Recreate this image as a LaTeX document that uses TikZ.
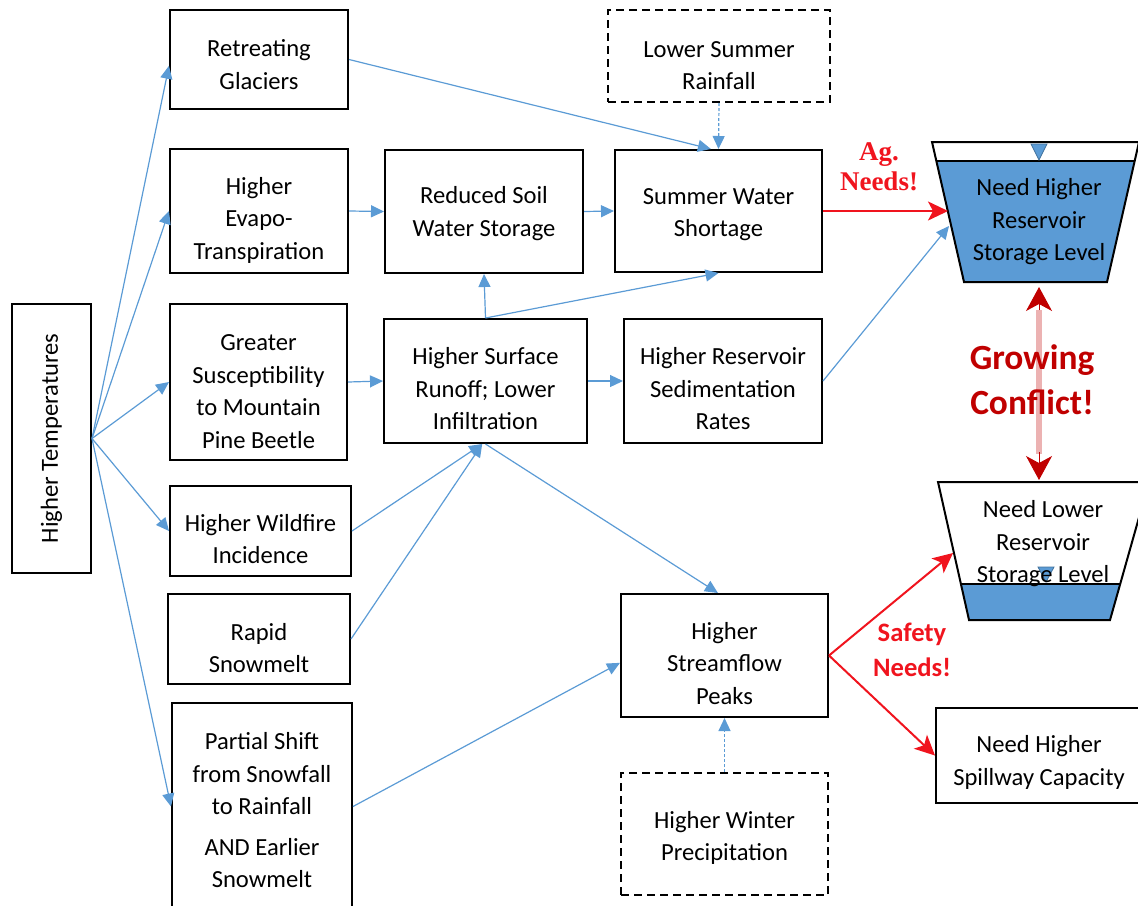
\documentclass[tikz,border=0pt]{standalone}
\usepackage{fontspec}
\setmainfont{Carlito}
\newfontfamily\agfont{Liberation Serif}
\usepackage{xcolor}
\usetikzlibrary{calc,arrows.meta}
\definecolor{flow}{HTML}{5B9BD5}
\definecolor{water}{HTML}{5B9BD5}
\definecolor{marker}{HTML}{41719C}
\definecolor{need}{HTML}{F0141E}
\definecolor{conflict}{HTML}{C00000}
% taller first line pushes the text down inside its box
\newcommand\lift[1]{\rule{0pt}{\dimexpr 8.5pt+#1\relax}}
\tikzset{
  box/.style={draw=black, line width=1pt, align=center, inner sep=0pt, font=\fontsize{12.3}{16.25}\selectfont},
  dbox/.style={box, dash pattern=on 4pt off 2.5pt},
  wh/.style 2 args={minimum width=#1*0.5pt, minimum height=#2*0.5pt},
  link/.style={draw=flow, line width=0.6pt, -{Triangle[length=6.5pt,width=6pt]}},
  weak/.style={link, dash pattern=on 1.5pt off 1pt},
  push/.style={draw=need, line width=1pt, -{Stealth[length=10pt,width=9.5pt,inset=2.5pt]}},
  res/.style={draw=black, line width=1pt, line join=miter},
  level/.style={fill=water, draw=marker, line width=0.4pt},
  restext/.style={align=center, inner sep=0pt, font=\fontsize{12.3}{16.25}\selectfont},
  gap/.style={draw=conflict, draw opacity=0.3, line width=3pt},
  gaptip/.style={draw=conflict, line width=0.5pt, -{Stealth[length=12pt,width=13pt,inset=3.5pt]}},
  shout/.style={align=center, inner sep=0pt, font=\bfseries\fontsize{13.3}{17.5}\selectfont, text=need},
}

\begin{document}
\begin{tikzpicture}[x=0.5pt,y=-0.5pt]
  \useasboundingbox (0,0) rectangle (1138,905);

  % drivers
  \node[box, rotate=90, wh={269}{79}] (temp) at (51.5,438.5) {Higher Temperatures};
  \node[box, wh={178}{99}] (glac) at (259,59.5) {\lift{5pt}Retreating\\Glaciers};
  \node[box, wh={178}{124}] (evap) at (259,211) {\lift{9pt}Higher\\Evapo-\\Transpiration};
  \node[box, wh={177}{156}] (beetle) at (258.5,382) {\lift{9pt}Greater\\Susceptibility\\to Mountain\\Pine Beetle};
  \node[box, wh={181}{90}] (fire) at (260.5,531) {\lift{8pt}Higher Wildfire\\Incidence};
  \node[box, wh={182}{90}] (melt) at (259,639) {\lift{9pt}Rapid\\Snowmelt};
  \node[box, wh={180}{207}] (shift) at (262,806.5) {\lift{4pt}Partial Shift\\from Snowfall\\to Rainfall\\[4pt]AND Earlier\\Snowmelt};

  % effects
  \node[box, wh={198}{123}] (soil) at (484,211.5) {\lift{2pt}Reduced Soil\\Water Storage};
  \node[box, wh={203}{124}] (runoff) at (485.5,381) {\lift{8pt}Higher Surface\\Runoff; Lower\\Infiltration};
  \node[box, wh={207}{122}] (short) at (718.5,211) {\lift{3pt}Summer Water\\Shortage};
  \node[dbox, wh={222}{92}] (rain) at (719,56) {\lift{9pt}Lower Summer\\Rainfall};
  \node[box, wh={198}{124}] (sed) at (723,381) {\lift{8pt}Higher Reservoir\\Sedimentation\\Rates};
  \node[box, wh={207}{123}] (peaks) at (724.5,655.5) {\lift{8pt}Higher\\Streamflow\\Peaks};
  \node[dbox, wh={207}{122}] (winter) at (724.5,834) {\lift{4pt}Higher Winter\\Precipitation};
  \node[box, wh={206}{95}] (spill) at (1039,755.5) {\lift{7pt}Need Higher\\Spillway Capacity};

  % reservoirs
  \fill[water] (936.3,161) -- (1134.7,161) -- (1107,282) -- (964,282) -- cycle;
  \draw[res] (932,142) -- (1139,142) -- (1107,282) -- (964,282) -- cycle;
  \draw[res] (936.3,161) -- (1134.7,161);
  \draw[level] (1031,144) -- (1047,144) -- (1039,160) -- cycle;
  \node[restext] (hitxt) at (1039,222) {Need Higher\\Reservoir\\Storage Level};

  \fill[water] (960.9,584) -- (1120,584) -- (1110,620) -- (969,620) -- cycle;
  \draw[res] (938,482) -- (1149,482) -- (1110,620) -- (969,620) -- cycle;
  \draw[res] (960.9,584) -- (1120,584);
  \draw[level] (1038,567) -- (1054,567) -- (1046,582) -- cycle;
  \node[restext] (lotxt) at (1043,544) {Need Lower\\Reservoir\\Storage Level};

  \coordinate (hiag) at (948,211);
  \coordinate (hised) at (949,226);
  \coordinate (hibot) at (1039,282);
  \coordinate (lotop) at (1039,482);
  \coordinate (losafe) at (953,553);

  % blue links
  \draw[link] (temp.south) -- (glac.184);
  \draw[link] (temp.south) -- (evap.west);
  \draw[link] (temp.south) -- (beetle.west);
  \draw[link] (temp.south) -- (fire.west);
  \draw[link] (temp.south) -- (shift.west);
  \draw[link] (evap.east) -- (soil.west);
  \draw[link] (beetle.east) -- (runoff.west);
  \draw[link] (soil.east) -- (short.west);
  \draw[link] (runoff.north) -- (soil.south);
  \draw[link] (runoff.north) -- (short.south);
  \draw[link] (glac.east) -- (short.97);
  \draw[weak] (rain.south) -- (short.north);
  \draw[link] (runoff.east) -- (sed.west);
  \draw[link] (fire.east) -- (runoff.267);
  \draw[link] (melt.east) -- (runoff.267);
  \draw[link] (runoff.south) -- (peaks.96);
  \draw[link] (shift.east) -- (peaks.184);
  \draw[weak] (winter.north) -- (peaks.south);
  \draw[link] (sed.east) -- (hised);

  % needs
  \draw[push] (short.east) -- (hiag);
  \draw[push] (peaks.east) -- (losafe);
  \draw[push] (peaks.east) -- (spill.west);
  \node[shout, font=\agfont\bfseries\fontsize{13.5}{15}\selectfont] (ag) at (879,167) {Ag.\\Needs!};
  \node[shout] (safe) at (912,650) {Safety\\Needs!};

  % conflict
  \node[shout, text=conflict, font=\bfseries\fontsize{17.7}{22.5}\selectfont] (grow) at (1032,380) {Growing\\Conflict!};
  \draw[gap, shorten <=14pt, shorten >=14pt] (hibot) -- (lotop);
  \draw[gaptip] ($(hibot)+(0,28)$) -- ($(hibot)+(0,5)$);
  \draw[gaptip] ($(lotop)+(0,-30)$) -- ($(lotop)+(0,-2)$);
\end{tikzpicture}
\end{document}
